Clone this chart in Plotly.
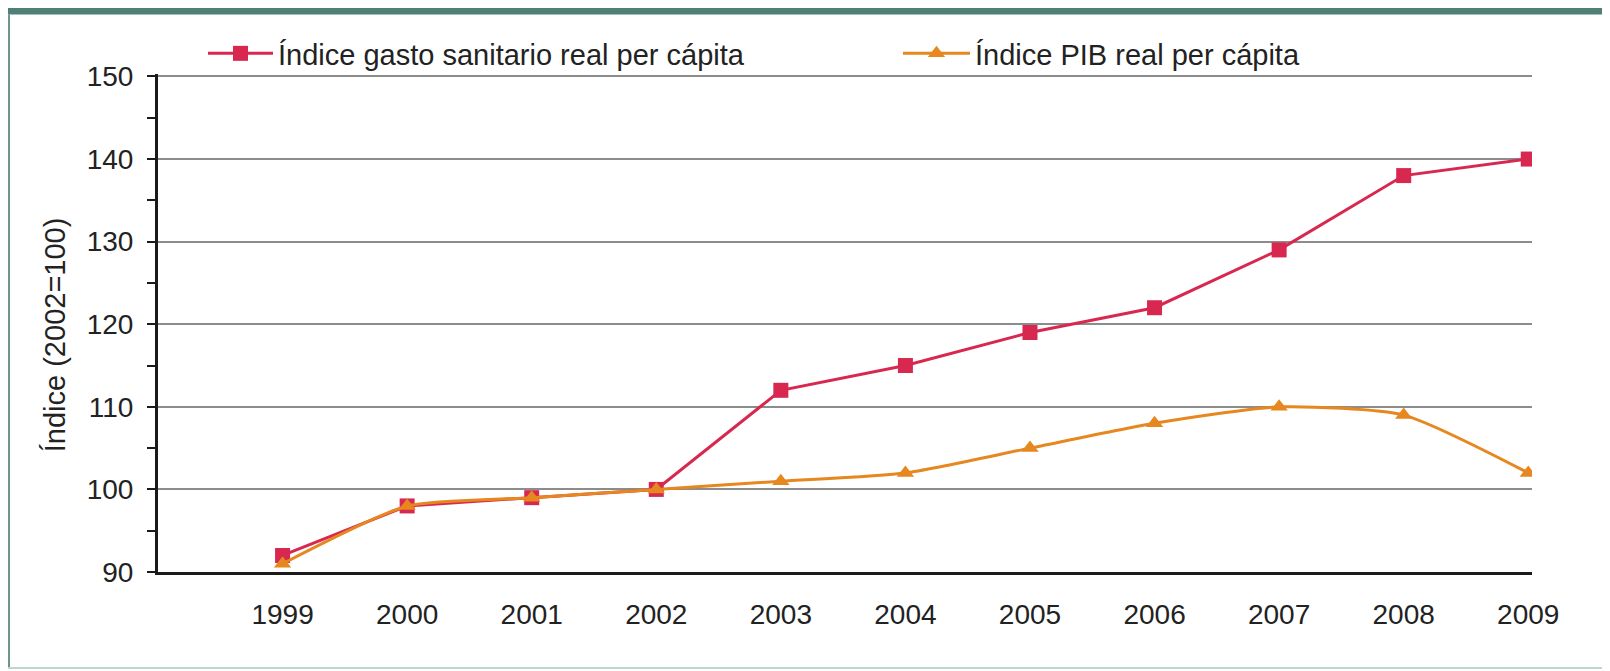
import plotly.graph_objects as go

years = [1999, 2000, 2001, 2002, 2003, 2004, 2005, 2006, 2007, 2008, 2009]
gasto_sanitario = [92, 98, 99, 100, 112, 115, 119, 122, 129, 138, 140]
pib = [91, 98, 99, 100, 101, 102, 105, 108, 110, 109, 102]
series_names = ["Índice gasto sanitario real per cápita", "Índice PIB real per cápita"]
y_title = "Índice (2002=100)"

OFF = 8  # browser body margin
W, H = 1610, 671
Y_MIN, Y_MAX = 90, 150.3
PX_PER_UNIT = (572 - 76) / 60.0
L, R = 158 - OFF, 1532 - OFF
B = 572 - OFF
T = B - (Y_MAX - Y_MIN) * PX_PER_UNIT

def px_x(p):
    return (p - OFF - L) / (R - L)

def px_y(p):
    return (B - (p - OFF)) / (B - T)

RED = "#d8284f"
ORANGE = "#e6871f"

fig = go.Figure()
fig.add_trace(go.Scatter(
    x=years, y=gasto_sanitario, name=series_names[0], mode="lines+markers",
    line=dict(color=RED, width=3),
    marker=dict(symbol="square", size=15, color=RED),
    legend="legend",
))
fig.add_trace(go.Scatter(
    x=years, y=pib, name=series_names[1], mode="lines+markers",
    line=dict(color=ORANGE, width=3, shape="spline", smoothing=0.6),
    marker=dict(symbol="triangle-up", size=15, color=ORANGE),
    legend="legend2",
))

font_family = "Liberation Sans, Arial, sans-serif"
leg_font = dict(size=29, color="#222222")

fig.update_layout(
    width=W, height=H,
    margin=dict(l=L, r=W - R, t=T, b=H - B, autoexpand=False),
    paper_bgcolor="white", plot_bgcolor="white",
    font=dict(family=font_family, color="#222222"),
    showlegend=True,
    legend=dict(
        orientation="h", x=px_x(203), xanchor="left", y=px_y(53), yanchor="middle",
        font=leg_font, bgcolor="rgba(0,0,0,0)", itemwidth=65,
    ),
    legend2=dict(
        orientation="h", x=px_x(898), xanchor="left", y=px_y(53), yanchor="middle",
        font=leg_font, bgcolor="rgba(0,0,0,0)", itemwidth=67,
    ),
    xaxis=dict(
        range=[1998, 2009.03], tickvals=years, ticktext=[str(y) for y in years],
        showgrid=False, zeroline=False, showline=True, linecolor="#1a1a1a", linewidth=3,
        ticks="", tickfont=dict(size=28, color="#222222"), ticklabelstandoff=15,
    ),
    yaxis=dict(
        range=[Y_MIN, Y_MAX], tickvals=[90, 100, 110, 120, 130, 140, 150],
        showgrid=True, gridcolor="#8c8c8c", gridwidth=2, zeroline=False,
        showline=True, linecolor="#1a1a1a", linewidth=3,
        ticks="outside", ticklen=8, tickwidth=2, tickcolor="#1a1a1a",
        minor=dict(tickvals=[95, 105, 115, 125, 135, 145], ticks="outside", ticklen=8,
                   tickwidth=2, tickcolor="#1a1a1a", showgrid=False),
        tickfont=dict(size=28, color="#222222"), ticklabelstandoff=8,
    ),
    annotations=[dict(
        text=y_title, textangle=-90, xref="paper", yref="paper",
        x=px_x(55), y=px_y(335), xanchor="center", yanchor="middle",
        showarrow=False, font=dict(size=29, color="#222222"),
    )],
    shapes=[
        dict(type="rect", xref="paper", yref="paper", x0=px_x(0), x1=px_x(W + 20),
             y0=px_y(14), y1=px_y(OFF - 2), fillcolor="#4f7f76", line=dict(width=0), layer="above"),
        dict(type="line", xref="paper", yref="paper", x0=px_x(OFF + 1), x1=px_x(OFF + 1),
             y0=px_y(14), y1=px_y(668), line=dict(color="#6f948d", width=2)),
        dict(type="line", xref="paper", yref="paper", x0=px_x(OFF), x1=px_x(1607),
             y0=px_y(668), y1=px_y(668), line=dict(color="#bcd6d2", width=2)),
        dict(type="line", xref="paper", yref="paper", x0=px_x(1607), x1=px_x(1607),
             y0=px_y(14), y1=px_y(668), line=dict(color="#bcd6d2", width=2)),
    ],
)

fig.write_html("out.html")
